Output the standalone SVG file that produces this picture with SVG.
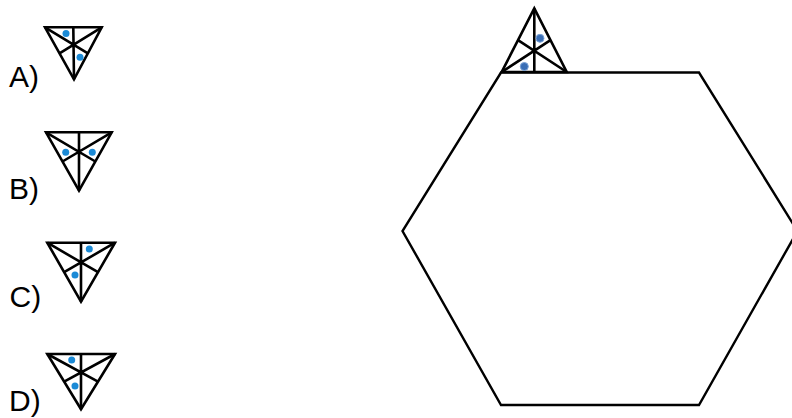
<svg xmlns="http://www.w3.org/2000/svg" width="792" height="418" viewBox="0 0 792 418">
<style>
.ln{fill:none;stroke:#000;stroke-width:2.6;stroke-linejoin:miter}
.hx{fill:none;stroke:#000;stroke-width:2.4;stroke-linejoin:miter}
.dot{fill:#1b8ad6}
.bd{fill:#3a6eb5;stroke:#7aa2d6;stroke-width:1}
.lb{font-family:"Liberation Sans",Arial,sans-serif;font-size:30px;fill:#000}
</style>
<rect width="792" height="418" fill="#fff"/>
<g id="optA">
<text class="lb" x="9" y="87">A)</text>
<polygon class="ln" points="45,27.3 101.7,27.3 74,79.3"/>
<path class="ln" d="M73.3,27.3L74,79.3M45,27.3L87.9,53.3M101.7,27.3L59.5,53.3"/>
<circle class="dot" cx="66" cy="33.5" r="3.5"/>
<circle class="dot" cx="80" cy="57.3" r="3.5"/>
</g>
<g id="optB">
<text class="lb" x="9" y="199">B)</text>
<polygon class="ln" points="46,132.3 111.7,132.3 79,190.7"/>
<path class="ln" d="M79,132.3L79,190.7M46,132.3L95.35,161.5M111.7,132.3L62.5,161.5"/>
<circle class="dot" cx="65.7" cy="152.3" r="3.5"/>
<circle class="dot" cx="92.3" cy="152.3" r="3.5"/>
</g>
<g id="optC">
<text class="lb" x="9.5" y="307">C)</text>
<polygon class="ln" points="47.3,242.7 115,242.7 81,301.7"/>
<path class="ln" d="M81,242.7L81,301.7M47.3,242.7L98,272.2M115,242.7L64.15,272.2"/>
<circle class="dot" cx="89.3" cy="249" r="3.5"/>
<circle class="dot" cx="75" cy="275" r="3.5"/>
</g>
<g id="optD">
<text class="lb" x="9" y="411">D)</text>
<polygon class="ln" points="47.3,354 115,354 81,409.3"/>
<path class="ln" d="M81,354L81,409.3M47.3,354L98,381.7M115,354L64.15,381.7"/>
<circle class="dot" cx="71.7" cy="360" r="3.5"/>
<circle class="dot" cx="75" cy="386" r="3.5"/>
</g>
<g id="hexagon">
<polygon class="hx" points="501,72.5 699,72.5 797.5,231 699,405 501,405 402.5,231"/>
</g>
<g id="bigTriangle">
<polygon class="ln" points="534.3,8.3 501.7,72 566.7,72"/>
<path class="ln" d="M534.3,8.3L534.3,72M501.7,72L550.5,40.2M566.7,72L518,40.2"/>
<circle class="bd" cx="540" cy="38.3" r="4"/>
<circle class="bd" cx="524.3" cy="66.5" r="4"/>
</g>
<g id="connectors"></g>
</svg>
